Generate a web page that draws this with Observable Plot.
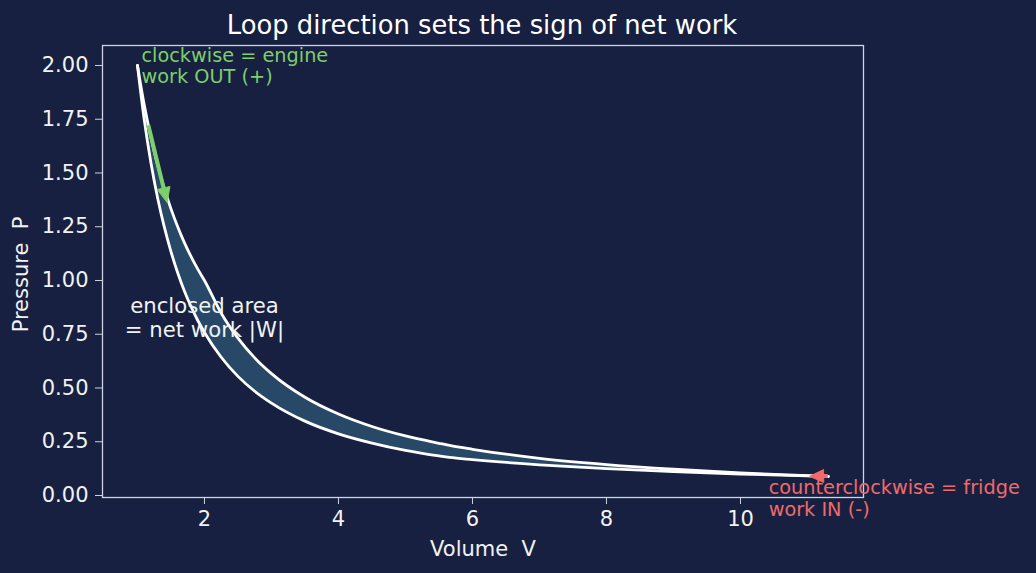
<!DOCTYPE html>
<html>
<head>
<meta charset="utf-8">
<script src="https://cdn.jsdelivr.net/npm/d3@7"></script>
<script src="https://cdn.jsdelivr.net/npm/@observablehq/plot@0.6"></script>
<style>
  html, body { margin: 0; padding: 0; background: #172040; }
  #wrap { width: 1036px; height: 573px; background: #172040; font-family: "DejaVu Sans", sans-serif; }
  #title { width: 964px; height: 30px; padding-top: 10px; line-height: 30px; text-align: center; color: #ffffff; font-size: 25.8px; }
</style>
</head>
<body>
<div id="wrap">
  <div id="title">Loop direction sets the sign of net work</div>
  <div id="chart"></div>
</div>
<script>
// Volume samples shared by both branches of the loop
const volume = [1, 1.1, 1.2, 1.3, 1.4, 1.5, 1.6, 1.7, 1.8, 1.9, 2.0, 2.25, 2.5, 2.75, 3, 3.5, 4, 4.5, 5, 5.5, 5.657, 6, 7, 8, 9, 10, 11, 11.31];
// Upper branch (hot isotherm then adiabat)
const pressureUpper = [2.0, 1.818, 1.667, 1.538, 1.429, 1.333, 1.25, 1.176, 1.111, 1.053, 1.0, 0.848, 0.732, 0.640, 0.567, 0.457, 0.379, 0.321, 0.277, 0.243, 0.233, 0.215, 0.173, 0.144, 0.122, 0.105, 0.092, 0.0884];
// Lower branch (adiabat then cold isotherm)
const pressureLower = [2.0, 1.750, 1.549, 1.385, 1.249, 1.134, 1.036, 0.951, 0.878, 0.814, 0.758, 0.643, 0.554, 0.485, 0.430, 0.346, 0.287, 0.244, 0.210, 0.184, 0.177, 0.1667, 0.1429, 0.125, 0.1111, 0.1, 0.0909, 0.0884];

const xTicks = [2, 4, 6, 8, 10];
const yTicks = [0, 0.25, 0.5, 0.75, 1.0, 1.25, 1.5, 1.75, 2.0];

const xLabel = "Volume  V";
const yLabel = "Pressure  P";

// Annotations
const engineNote = {x: 1.06, y: 2.0, text: "clockwise = engine\nwork OUT (+)"};
const fridgeNote = {x: 10.42, y: -0.01, text: "counterclockwise = fridge\nwork IN (-)"};
const areaNote = {x: 2.0, y: 0.828, text: "enclosed area\n= net work |W|"};
const engineArrow = {x1: 1.17, y1: 1.72, x2: 1.45, y2: 1.36};
const fridgeArrow = {x1: 11.31, y1: 0.0884, x2: 11.04, y2: 0.087};

const FG = "#f2f2f2";
const SPINE = "#cdd3e2";
const GREEN = "#7ccf6a";
const RED = "#f06a6a";
const FILL = "#284868";

const loop = volume.map((v, i) => ({v, up: pressureUpper[i], lo: pressureLower[i]}));

// Arrow with a filled head, positioned through the plot's x/y scales
function filledArrow(a, color, width, headLen, headHalf) {
  return (index, scales) => {
    const x1 = scales.x(a.x1), y1 = scales.y(a.y1);
    const x2 = scales.x(a.x2), y2 = scales.y(a.y2);
    const dx = x2 - x1, dy = y2 - y1, L = Math.hypot(dx, dy);
    const ux = dx / L, uy = dy / L, nx = -uy, ny = ux;
    const bx = x2 - ux * headLen, by = y2 - uy * headLen;
    const g = d3.create("svg:g");
    g.append("line")
      .attr("x1", x1).attr("y1", y1).attr("x2", bx + ux * 2).attr("y2", by + uy * 2)
      .attr("stroke", color).attr("stroke-width", width).attr("stroke-linecap", "butt");
    g.append("path")
      .attr("d", `M${x2},${y2}L${bx + nx * headHalf},${by + ny * headHalf}L${bx - nx * headHalf},${by - ny * headHalf}Z`)
      .attr("fill", color).attr("stroke", color).attr("stroke-width", 1).attr("stroke-linejoin", "round");
    return g.node();
  };
}

const plot = Plot.plot({
  width: 1036,
  height: 533,
  marginLeft: 102,
  marginRight: 173,
  marginTop: 5,
  marginBottom: 76,
  style: {background: "transparent", color: FG, fontFamily: "DejaVu Sans, sans-serif", fontSize: "20.8px", overflow: "visible"},
  x: {domain: [0.478, 11.836], label: null},
  y: {domain: [-0.0093, 2.093], label: null},
  marks: [
    Plot.areaY(loop, {x: "v", y1: "lo", y2: "up", fill: FILL, curve: "monotone-x"}),
    Plot.line(loop, {x: "v", y: "up", stroke: "#ffffff", strokeWidth: 2.8, curve: "monotone-x"}),
    Plot.line(loop, {x: "v", y: "lo", stroke: "#ffffff", strokeWidth: 2.8, curve: "monotone-x"}),
    Plot.frame({stroke: SPINE, strokeWidth: 1.3}),
    Plot.axisX(xTicks, {anchor: "bottom", tickSize: 7, tickPadding: 7, stroke: SPINE, fill: FG, fontSize: 21, label: null}),
    Plot.axisY(yTicks, {anchor: "left", tickSize: 7, tickPadding: 7, stroke: SPINE, fill: FG, fontSize: 21, tickFormat: d3.format(".2f"), label: null}),
    Plot.text([xLabel], {frameAnchor: "bottom", dy: 52, text: d => d, fill: FG, fontSize: 21, textAnchor: "middle", lineAnchor: "middle"}),
    Plot.text([yLabel], {frameAnchor: "left", dx: -81, dy: 3, rotate: -90, text: d => d, fill: FG, fontSize: 21, textAnchor: "middle", lineAnchor: "middle"}),
    filledArrow(engineArrow, GREEN, 4, 15, 6.5),
    filledArrow(fridgeArrow, RED, 4, 14, 6.5),
    Plot.text([engineNote], {x: "x", y: "y", text: "text", textAnchor: "start", lineAnchor: "middle", lineHeight: 1.1, fill: GREEN, fontSize: 19.3}),
    Plot.text([fridgeNote], {x: "x", y: "y", text: "text", textAnchor: "start", lineAnchor: "middle", lineHeight: 1.15, fill: RED, fontSize: 19.3}),
    Plot.text([areaNote], {x: "x", y: "y", text: "text", textAnchor: "middle", lineAnchor: "middle", lineHeight: 1.1, fill: FG, fontSize: 21.2})
  ]
});
document.getElementById("chart").appendChild(plot);
</script>
</body>
</html>
